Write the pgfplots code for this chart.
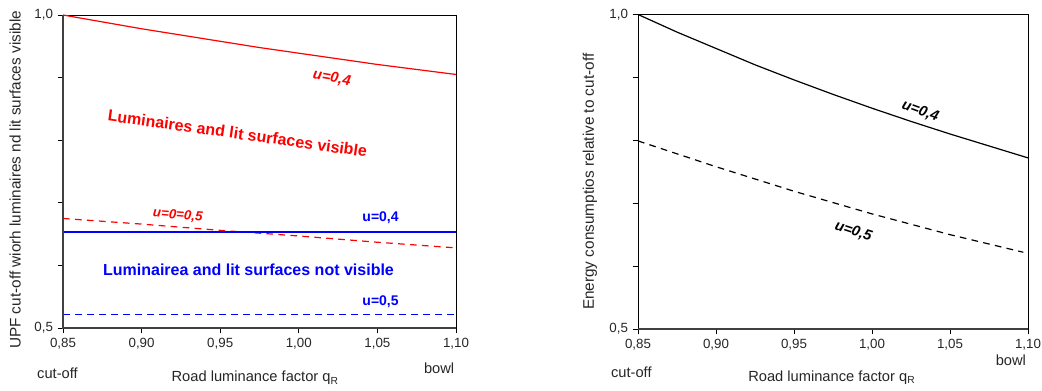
\documentclass[border=0pt]{standalone}
\usepackage{fontspec}
\setmainfont{Liberation Sans}
\usepackage{pgfplots}
\pgfplotsset{compat=1.18}
\definecolor{myred}{RGB}{255,0,0}
\definecolor{myblue}{RGB}{0,0,255}
\begin{document}
\begin{tikzpicture}
\useasboundingbox (-47.25pt,-46.5pt) rectangle (734.25pt,246pt);
\pgfplotsset{
  myaxis/.style={
    scale only axis, width=294.75pt, height=234.75pt,
    xmin=0.85, xmax=1.10, ymin=0.5, ymax=1.0,
    xtick={0.85,0.9,0.95,1.0,1.05,1.1},
    xticklabels={{0,85},{0,90},{0,95},{1,00},{1,05},{1,10}},
    ytick={0.5,0.6,0.7,0.8,0.9,1.0},
    yticklabels={{0,5},{},{},{},{},{1,0}},
    xtick pos=bottom, ytick pos=left,
    tick align=outside, major tick length=4pt,
    tick style={black, line width=0.6pt},
    ticklabel style={font=\fontsize{10}{12}\selectfont, text=black!85},
    label style={font=\fontsize{11.5}{13}\selectfont, text=black!85},
    axis line style={line width=0.6pt},
    clip=false,
  }
}
\begin{axis}[myaxis, at={(0pt,0pt)}, anchor=south west,
  ylabel={UPF cut-off wiorh luminaires nd lit surfaces visible},
  ylabel style={at={(axis description cs:-0.122,0.473)}, anchor=center},
  xlabel={Road luminance factor q$_{\mathrm{R}}$},
  xlabel style={at={(axis description cs:0.489,-0.16)}, anchor=center, font=\fontsize{11}{13}\selectfont},
]
\addplot[draw=myred, line width=0.9pt] coordinates {(0.85,1.0) (0.875,0.989) (0.90,0.978) (0.925,0.968) (0.95,0.958) (0.975,0.948) (1.0,0.939) (1.025,0.930) (1.05,0.921) (1.075,0.913) (1.10,0.905)};
\addplot[draw=myred, line width=0.9pt, dash pattern=on 5pt off 4pt] coordinates {(0.85,0.675) (0.90,0.666) (0.95,0.656) (1.0,0.647) (1.05,0.637) (1.10,0.628)};
\addplot[draw=myblue, line width=1.4pt] coordinates {(0.85,0.6535) (0.90,0.6535) (0.95,0.6535) (1.0,0.6535) (1.05,0.6535) (1.10,0.6535)};
\addplot[draw=myblue, line width=0.9pt, dash pattern=on 5pt off 4pt] coordinates {(0.85,0.522) (1.10,0.522)};
\draw[line width=1.3pt, black!75] (rel axis cs:0,1) -- (rel axis cs:0,0) -- (rel axis cs:1,0);
\node[myred, font=\bfseries\itshape\fontsize{11}{13}\selectfont, rotate=-10] at (axis cs:1.021,0.899) {u=0,4};
\node[myred, font=\bfseries\fontsize{12}{14}\selectfont, rotate=-8] at (axis cs:0.961,0.811) {Luminaires and lit surfaces visible};
\node[myred, font=\bfseries\itshape\fontsize{10}{12}\selectfont, rotate=-5] at (axis cs:0.923,0.680) {u=0=0,5};
\node[myblue, font=\bfseries\fontsize{10.5}{13}\selectfont] at (axis cs:1.052,0.676) {u=0,4};
\node[myblue, font=\bfseries\fontsize{12}{14}\selectfont] at (axis cs:0.968,0.593) {Luminairea and lit surfaces not visible};
\node[myblue, font=\bfseries\fontsize{10.5}{13}\selectfont] at (axis cs:1.052,0.542) {u=0,5};
\node[font=\fontsize{11}{13}\selectfont, text=black!85] at (rel axis cs:-0.014,-0.144) {cut-off};
\node[font=\fontsize{11}{13}\selectfont, text=black!85] at (rel axis cs:0.957,-0.128) {bowl};
\end{axis}
\begin{axis}[myaxis, at={(431.25pt,-0.75pt)}, anchor=south west, height=235.9pt, width=292.5pt,
  ylabel={Energy consumptios relative to cut-off},
  ylabel style={at={(axis description cs:-0.123,0.468)}, anchor=center},
  xlabel={Road luminance factor q$_{\mathrm{R}}$},
  xlabel style={at={(axis description cs:0.497,-0.155)}, anchor=center, font=\fontsize{11}{13}\selectfont},
]
\addplot[black, line width=0.9pt] coordinates {(0.85,1.0) (0.875,0.972) (0.90,0.946) (0.925,0.920) (0.95,0.896) (0.975,0.873) (1.0,0.851) (1.025,0.830) (1.05,0.810) (1.075,0.791) (1.10,0.772)};
\addplot[black, line width=0.9pt, dash pattern=on 5pt off 4pt] coordinates {(0.85,0.799) (0.90,0.758) (0.95,0.719) (1.0,0.683) (1.05,0.650) (1.097,0.622)};
\draw[line width=1.3pt, black!75] (rel axis cs:0,0) -- (rel axis cs:1,0);
\node[black, font=\bfseries\itshape\fontsize{11}{13}\selectfont, rotate=-20] at (axis cs:1.031,0.846) {u=0,4};
\node[black, font=\bfseries\itshape\fontsize{11}{13}\selectfont, rotate=-18] at (axis cs:0.988,0.655) {u=0,5};
\node[font=\fontsize{11}{13}\selectfont, text=black!85] at (rel axis cs:-0.017,-0.137) {cut-off};
\node[font=\fontsize{11}{13}\selectfont, text=black!85] at (rel axis cs:0.956,-0.099) {bowl};
\end{axis}
\end{tikzpicture}
\end{document}
